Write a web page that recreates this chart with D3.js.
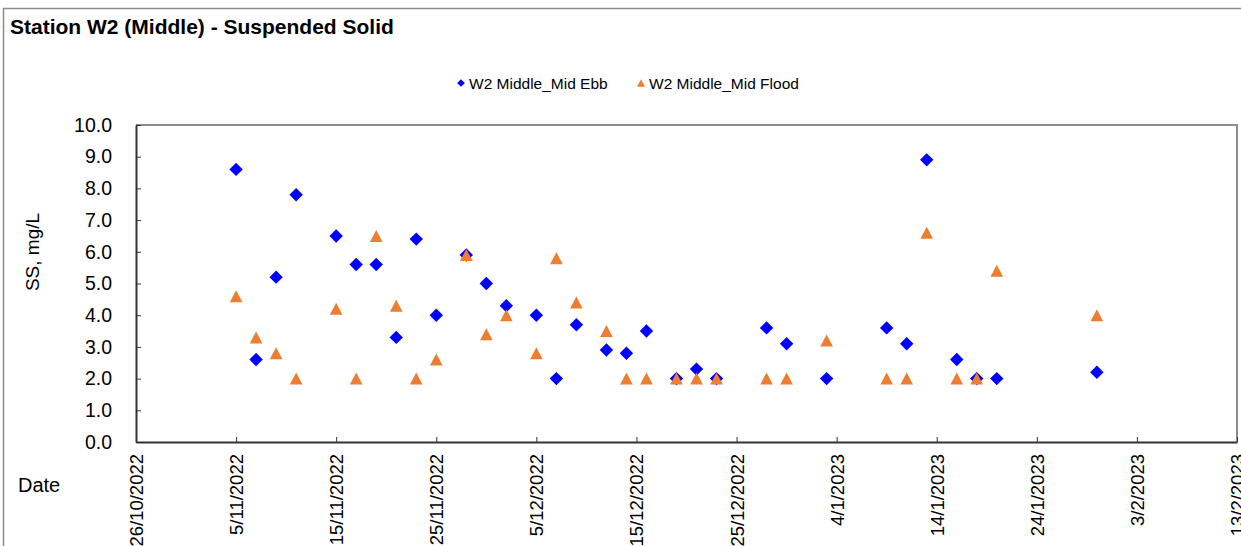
<!DOCTYPE html>
<html>
<head>
<meta charset="utf-8">
<script src="https://cdn.jsdelivr.net/npm/d3@7"></script>
<style>
  html, body { margin: 0; padding: 0; background: #fff; }
  svg { display: block; }
  text { font-family: "Liberation Sans", Arial, sans-serif; fill: #000; }
</style>
</head>
<body>
<svg id="chart" width="1241" height="546"></svg>
<script>
// ---- data ----
const sampleDates = [
  "2022-11-05","2022-11-07","2022-11-09","2022-11-11","2022-11-15","2022-11-17",
  "2022-11-19","2022-11-21","2022-11-23","2022-11-25","2022-11-28","2022-11-30",
  "2022-12-02","2022-12-05","2022-12-07","2022-12-09","2022-12-12","2022-12-14",
  "2022-12-16","2022-12-19","2022-12-21","2022-12-23","2022-12-28","2022-12-30",
  "2023-01-03","2023-01-09","2023-01-11","2023-01-13","2023-01-16","2023-01-18",
  "2023-01-20","2023-01-30"
];
const midEbb = [
  8.6, 2.6, 5.2, 7.8, 6.5, 5.6,
  5.6, 3.3, 6.4, 4.0, 5.9, 5.0,
  4.3, 4.0, 2.0, 3.7, 2.9, 2.8,
  3.5, 2.0, 2.3, 2.0, 3.6, 3.1,
  2.0, 3.6, 3.1, 8.9, 2.6, 2.0,
  2.0, 2.2
];
const midFlood = [
  4.6, 3.3, 2.8, 2.0, 4.2, 2.0,
  6.5, 4.3, 2.0, 2.6, 5.9, 3.4,
  4.0, 2.8, 5.8, 4.4, 3.5, 2.0,
  2.0, 2.0, 2.0, 2.0, 2.0, 2.0,
  3.2, 2.0, 2.0, 6.6, 2.0, 2.0,
  5.4, 4.0
];
const seriesNames = ["W2 Middle_Mid Ebb", "W2 Middle_Mid Flood"];
const xTickLabels = ["26/10/2022","5/11/2022","15/11/2022","25/11/2022","5/12/2022",
  "15/12/2022","25/12/2022","4/1/2023","14/1/2023","24/1/2023","3/2/2023","13/2/2023"];
const yTickValues = [0,1,2,3,4,5,6,7,8,9,10];
const chartTitle = "Station W2 (Middle) - Suspended Solid";
const yTitle = "SS, mg/L";
const xTitle = "Date";

// ---- setup ----
const parse = d3.timeParse("%Y-%m-%d");
const parseLbl = d3.timeParse("%d/%m/%Y");
const svg = d3.select("#chart");
const plot = { left: 136, right: 1237, top: 125, bottom: 442 };

const xTicks = xTickLabels.map(s => parseLbl(s));
const x = d3.scaleTime()
  .domain([xTicks[0], xTicks[xTicks.length - 1]])
  .range([plot.left, plot.right]);
const y = d3.scaleLinear().domain([0, 10]).range([plot.bottom, plot.top]);

const ebbColor = "#0000FF";
const floodColor = "#ED7D31";

// custom symbol types
const diamond = { draw(ctx, size) { const r = Math.sqrt(size / 2);
  ctx.moveTo(0, -r); ctx.lineTo(r, 0); ctx.lineTo(0, r); ctx.lineTo(-r, 0); ctx.closePath(); } };
const triangle = { draw(ctx, size) { const w = Math.sqrt(size); const h = w * 0.95;
  ctx.moveTo(0, -h / 2); ctx.lineTo(w / 2, h / 2); ctx.lineTo(-w / 2, h / 2); ctx.closePath(); } };

// outer chart border
svg.append("rect").attr("x", 3.5).attr("y", 8.5).attr("width", 1300).attr("height", 600)
  .attr("fill", "none").attr("stroke", "#8c8c8c").attr("stroke-width", 1.5);

// title
svg.append("text").attr("x", 10).attr("y", 34)
  .attr("font-size", 21).attr("font-weight", "bold").text(chartTitle);

// plot frame (top/right gray)
svg.append("path")
  .attr("d", `M${plot.left},${plot.top}H${plot.right}V${plot.bottom}`)
  .attr("fill", "none").attr("stroke", "#8c8c8c").attr("stroke-width", 2);

// y axis
const yAxis = d3.axisLeft(y).tickValues(yTickValues).tickFormat(d3.format(".1f"))
  .tickSizeInner(-5).tickSizeOuter(0).tickPadding(24);
const gy = svg.append("g").attr("transform", `translate(${plot.left},0)`).call(yAxis);
gy.select(".domain").attr("stroke", "#333").attr("stroke-width", 2);
gy.selectAll(".tick line").attr("stroke", "#333");
gy.selectAll(".tick text").attr("font-size", 19.5).attr("font-family", "Liberation Sans, Arial, sans-serif")
  .attr("fill", "#000");

// x axis
const xAxis = d3.axisBottom(x).tickValues(xTicks).tickFormat((d, i) => xTickLabels[i])
  .tickSizeInner(-5).tickSizeOuter(0);
const gx = svg.append("g").attr("transform", `translate(0,${plot.bottom})`).call(xAxis);
gx.select(".domain").attr("stroke", "#333").attr("stroke-width", 2);
gx.selectAll(".tick line").attr("stroke", "#333");
gx.selectAll(".tick text")
  .attr("font-size", 18.5).attr("font-family", "Liberation Sans, Arial, sans-serif").attr("fill", "#000")
  .attr("transform", "rotate(-90)")
  .attr("text-anchor", "end")
  .attr("x", -12).attr("y", 0).attr("dy", "0.35em");

// axis titles
svg.append("text").attr("transform", "translate(39,252) rotate(-90)")
  .attr("text-anchor", "middle").attr("font-size", 19).text(yTitle);
svg.append("text").attr("x", 18).attr("y", 492).attr("font-size", 20).text(xTitle);

// data
const ebbData = sampleDates.map((d, i) => ({ date: parse(d), v: midEbb[i] }));
const floodData = sampleDates.map((d, i) => ({ date: parse(d), v: midFlood[i] }));

svg.append("g").selectAll("path").data(ebbData).join("path")
  .attr("d", d3.symbol(diamond, 90))
  .attr("transform", d => `translate(${x(d.date)},${y(d.v)})`)
  .attr("fill", ebbColor);

svg.append("g").selectAll("path").data(floodData).join("path")
  .attr("d", d3.symbol(triangle, 160))
  .attr("transform", d => `translate(${x(d.date)},${y(d.v)})`)
  .attr("fill", floodColor);

// legend
const lg = svg.append("g");
lg.append("path").attr("d", d3.symbol(diamond, 30)).attr("transform", "translate(461,83)").attr("fill", ebbColor);
lg.append("text").attr("x", 469).attr("y", 89).attr("font-size", 15.5).text(seriesNames[0]);
lg.append("path").attr("d", d3.symbol(triangle, 64)).attr("transform", "translate(641,83)").attr("fill", floodColor);
lg.append("text").attr("x", 649).attr("y", 89).attr("font-size", 15.5).text(seriesNames[1]);
</script>
</body>
</html>
